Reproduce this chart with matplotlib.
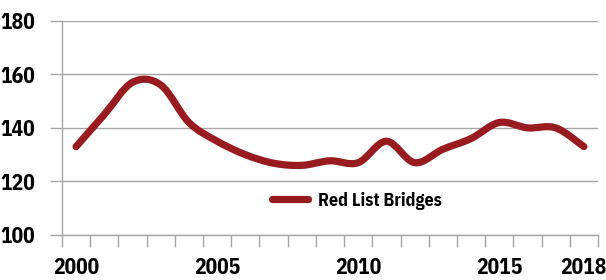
import numpy as np
import matplotlib
matplotlib.use("Agg")
import matplotlib.pyplot as plt
from matplotlib.path import Path
from matplotlib.patches import PathPatch
from matplotlib.lines import Line2D

years = [str(y) for y in range(2000, 2019)]
red_list = [133, 145, 157, 156, 142, 135, 130, 126.8, 126, 127.7, 127, 135, 127, 132, 136, 142, 140, 140, 133]
shown_labels = ["2000", "2005", "2010", "2015", "2018"]
y_ticks = [100, 120, 140, 160, 180]

LINE_COLOR = "#981b1f"
GRID_COLOR = "#a6a6a6"
FONT = ["IBM Plex Sans Condensed", "DejaVu Sans"]

plt.rcParams["font.family"] = FONT

fig = plt.figure(figsize=(6.06, 2.80), dpi=100)
ax = fig.add_axes([62/606, 1-235/280, 536/606, (235-20.7)/280])

x = np.arange(len(years), dtype=float)
y = np.array(red_list, dtype=float)

# Smoothed line (Catmull-Rom style Bezier segments, like a spreadsheet "smoothed line")
verts = [(x[0], y[0])]
codes = [Path.MOVETO]
n = len(x)
for i in range(n - 1):
    p0 = np.array([x[max(i-1, 0)], y[max(i-1, 0)]])
    p1 = np.array([x[i], y[i]])
    p2 = np.array([x[i+1], y[i+1]])
    p3 = np.array([x[min(i+2, n-1)], y[min(i+2, n-1)]])
    c1 = p1 + (p2 - p0) / 6.0
    c2 = p2 - (p3 - p1) / 6.0
    verts += [tuple(c1), tuple(c2), tuple(p2)]
    codes += [Path.CURVE4] * 3
patch = PathPatch(Path(verts, codes), facecolor="none", edgecolor=LINE_COLOR,
                  lw=5.2, capstyle="round", joinstyle="round", zorder=3)
ax.add_patch(patch)

ax.set_xlim(-0.5, n - 0.5)
ax.set_ylim(100, 180)

# grid
ax.set_yticks(y_ticks)
ax.yaxis.grid(True, color=GRID_COLOR, lw=1.0)
ax.set_axisbelow(True)
ax.tick_params(axis="y", length=8.5, width=1.0, color=GRID_COLOR, pad=11,
               labelsize=15.5)
for lab in ax.get_yticklabels():
    lab.set_fontweight("bold")

label_pos = [years.index(l) for l in shown_labels]
ax.set_xticks(label_pos)
ax.set_xticklabels(shown_labels, fontsize=15.5, fontweight="bold")
ax.set_xticks(np.arange(-0.5, n, 1.0), minor=True)
ax.tick_params(axis="x", which="major", length=0, pad=16)
ax.tick_params(axis="x", which="minor", length=8.5, width=1.0, color=GRID_COLOR)

for s in ["top", "right"]:
    ax.spines[s].set_visible(False)
for s in ["left", "bottom"]:
    ax.spines[s].set_color(GRID_COLOR)
    ax.spines[s].set_linewidth(1.0)

handle = Line2D([], [], color=LINE_COLOR, lw=5.2, solid_capstyle="round")
leg = ax.legend([handle], ["Red List Bridges"], loc="center", bbox_to_anchor=(0.55, 0.16),
                frameon=False, handlelength=2.0, handletextpad=0.55,
                prop={"family": FONT, "weight": "bold", "size": 13})

fig.savefig("out.png", dpi=100)
